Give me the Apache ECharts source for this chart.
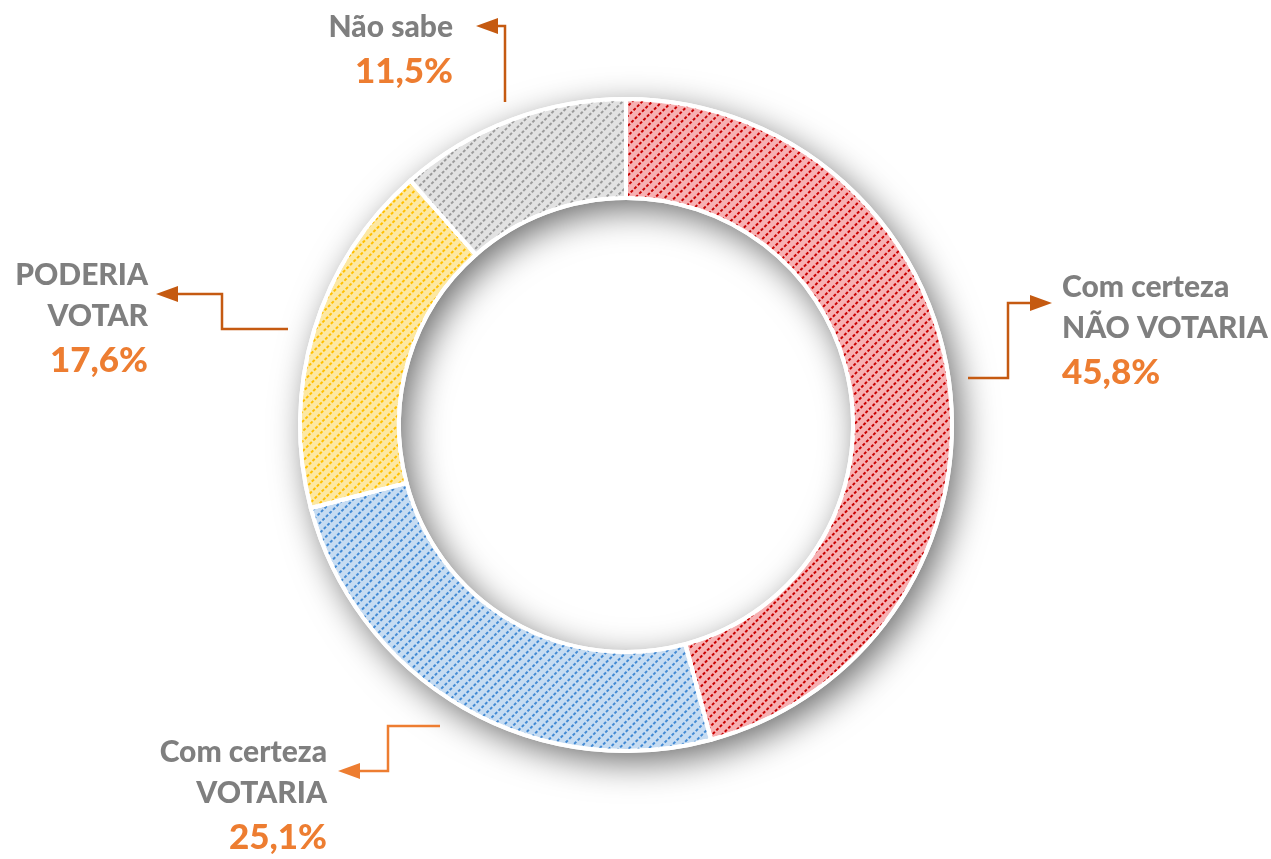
<!DOCTYPE html>
<html>
<head>
<meta charset="utf-8">
<title>Intenção de voto</title>
<script src="https://cdn.jsdelivr.net/npm/echarts@6/dist/echarts.min.js"></script>
<style>
  html, body { margin: 0; padding: 0; background: #fff; }
  #ring { width: 1271px; height: 859px; }
</style>
</head>
<body>
<div id="ring"></div>
<script>
// dados
var categorias = ['Com certeza\nNÃO VOTARIA', 'Com certeza\nVOTARIA', 'PODERIA\nVOTAR', 'Não sabe'];
var valores = [45.8, 25.1, 17.6, 11.5];

// cores: fundo claro + listras
var corFundo = ['#f7b0b2', '#c6dcf2', '#fde8a2', '#e2e2e2'];
var corListra = ['#c80000', '#4189d3', '#ffbf00', '#9a9a9a'];

// posição dos rótulos
var rotulos = [
    {x: 1062, y: 332, align: 'left'},
    {x: 327, y: 797, align: 'right'},
    {x: 148, y: 320, align: 'right'},
    {x: 453, y: 51, align: 'right'}
];

var centro = [626, 425];
var raio = [227, 326];

function fmt(v) {
    return v.toFixed(1).replace('.', ',') + '%';
}

var dados = categorias.map(function (nome, i) {
    return {
        name: nome,
        value: valores[i],
        itemStyle: {
            color: corFundo[i],
            decal: {
                symbol: 'rect',
                symbolSize: 1,
                color: corListra[i],
                dashArrayX: [[3, 2]],
                dashArrayY: [2, 5],
                rotation: -Math.PI / 4
            }
        }
    };
});

// conectores (seta no fim)
var escuro = '#c55a11';
function seta(pts, cor) {
    var a = pts[pts.length - 2], b = pts[pts.length - 1];
    var dx = b[0] - a[0], dy = b[1] - a[1];
    var len = Math.sqrt(dx * dx + dy * dy);
    var ux = dx / len, uy = dy / len;
    var L = 22, W = 8;
    var base = [b[0] - ux * L, b[1] - uy * L];
    var linha = pts.slice(0, pts.length - 1).concat([base]);
    return [
        {type: 'polyline', shape: {points: linha}, style: {stroke: cor, lineWidth: 2.5, fill: null}, z: 10},
        {type: 'polygon', shape: {points: [b, [base[0] - uy * W, base[1] + ux * W], [base[0] + uy * W, base[1] - ux * W]]}, style: {fill: cor}, z: 10}
    ];
}
var graficos = []
    .concat(seta([[968, 378], [1008, 378], [1008, 303], [1052, 303]], escuro))
    .concat(seta([[505, 102], [505, 26], [476, 26]], escuro))
    .concat(seta([[288, 329], [222, 329], [222, 294], [156, 294]], escuro))
    .concat(seta([[440, 726], [388, 726], [388, 771], [338, 771]], '#ed7d31'));

var ring = echarts.init(document.getElementById('ring'));
ring.setOption({
    animation: false,
    graphic: graficos,
    series: [
        {
            // sombra do anel
            type: 'pie',
            center: centro,
            radius: raio,
            silent: true,
            z: 1,
            label: {show: false},
            labelLine: {show: false},
            itemStyle: {
                color: '#fff',
                shadowBlur: 36,
                shadowOffsetX: 8,
                shadowOffsetY: 10,
                shadowColor: 'rgba(0,0,0,0.6)'
            },
            data: [{name: '', value: 1}]
        },
        {
            type: 'pie',
            center: centro,
            radius: raio,
            startAngle: 90,
            z: 2,
            itemStyle: {
                borderColor: '#fff',
                borderWidth: 4
            },
            label: {
                show: true,
                position: 'outside',
                fontFamily: 'Lato',
                formatter: function (p) {
                    return '{n|' + p.name + '}\n{v|' + fmt(p.value) + '}';
                },
                rich: {
                    n: {fontFamily: 'Lato', fontWeight: 900, fontSize: 30, color: '#7f7f7f', lineHeight: 41},
                    v: {fontFamily: 'Lato', fontWeight: 900, fontSize: 35, color: '#ed7d31', lineHeight: 48}
                }
            },
            labelLine: {show: false},
            labelLayout: function (params) {
                var r = rotulos[params.dataIndex];
                return {x: r.x, y: r.y, align: r.align, verticalAlign: 'middle', hideOverlap: false};
            },
            data: dados
        }
    ]
});
</script>
</body>
</html>
